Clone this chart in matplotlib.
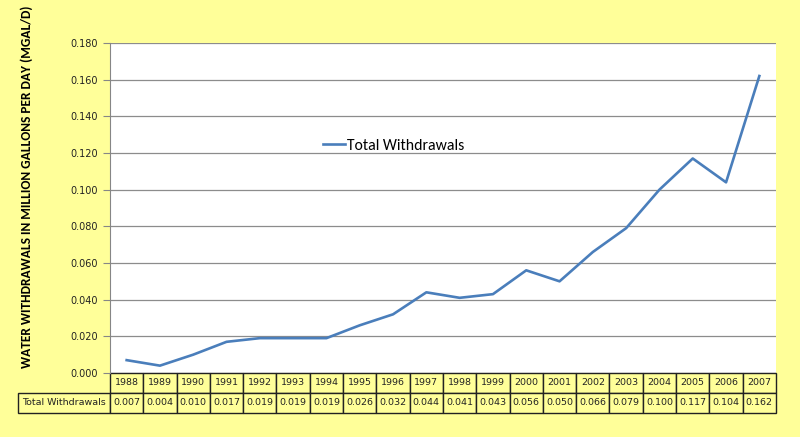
import matplotlib as mpl
from matplotlib import pyplot as plt
import numpy as np

years = ["1988", "1989", "1990", "1991", "1992", "1993", "1994", "1995", "1996", "1997",
         "1998", "1999", "2000", "2001", "2002", "2003", "2004", "2005", "2006", "2007"]
withdrawals = [0.007, 0.004, 0.010, 0.017, 0.019, 0.019, 0.019, 0.026, 0.032, 0.044,
               0.041, 0.043, 0.056, 0.050, 0.066, 0.079, 0.100, 0.117, 0.104, 0.162]
series_name = "Total Withdrawals"
y_ticks = [0.0, 0.02, 0.04, 0.06, 0.08, 0.10, 0.12, 0.14, 0.16, 0.18]

plt.rcParams['font.family'] = ['DejaVu Sans']
calibri = ['Carlito', 'DejaVu Sans']

bg = "#ffff99"
line_color = "#4a7ebb"

fig = plt.figure(figsize=(8, 4.37), dpi=100, facecolor=bg)
ax = fig.add_axes([0.1375, 0.1465, 0.8325, 0.7551])
ax.set_facecolor("white")

x = np.arange(len(years))
ax.plot(x, withdrawals, color=line_color, linewidth=1.9, label=series_name, zorder=3)

ax.set_xlim(-0.5, len(years) - 0.5)
ax.set_ylim(0, 0.18)
ax.set_yticks(y_ticks)
ax.yaxis.set_major_formatter(plt.FuncFormatter(lambda v, p: "%.3f" % v))
ax.set_xticks([])
ax.tick_params(axis="y", length=5, color="#868686", labelsize=7, labelcolor="#222222", pad=4)
ax.grid(True, axis="y", color="#8c8c8c", linewidth=0.9)
for side in ["top", "right", "bottom"]:
    ax.spines[side].set_visible(False)
ax.spines["left"].set_color("#868686")

ax.set_ylabel("WATER WITHDRAWALS IN MILLION GALLONS PER DAY (MGAL/D)",
              fontsize=9.65, fontweight="bold", family=calibri)
ax.yaxis.set_label_coords(-0.116, 0.564)

ax.legend(frameon=False, loc="center left", bbox_to_anchor=(0.31, 0.688),
          borderaxespad=0, handlelength=1.45, handletextpad=0.1,
          prop={"family": calibri, "size": 11.3})

# data table below the plot
cells = [[""] + years, [series_name] + ["%.3f" % v for v in withdrawals]]
label_w = 92 / 666
col_w = [label_w] + [1 / len(years)] * len(years)
tab = ax.table(cellText=cells, colWidths=col_w, cellLoc="center",
               bbox=[-label_w, -0.121, 1 + label_w, 0.121])
tab.auto_set_font_size(False)
tab.set_fontsize(6.8)
for (r, c), cell in tab.get_celld().items():
    cell.set_facecolor(bg)
    cell.set_edgecolor("#222222")
    cell.set_linewidth(1.0)
    cell.get_text().set_color("#222222")
    if r == 0 and c == 0:
        cell.set_facecolor("none")
tab[0, 0].visible_edges = ""

plt.savefig("out.png", format="png", facecolor=bg)
